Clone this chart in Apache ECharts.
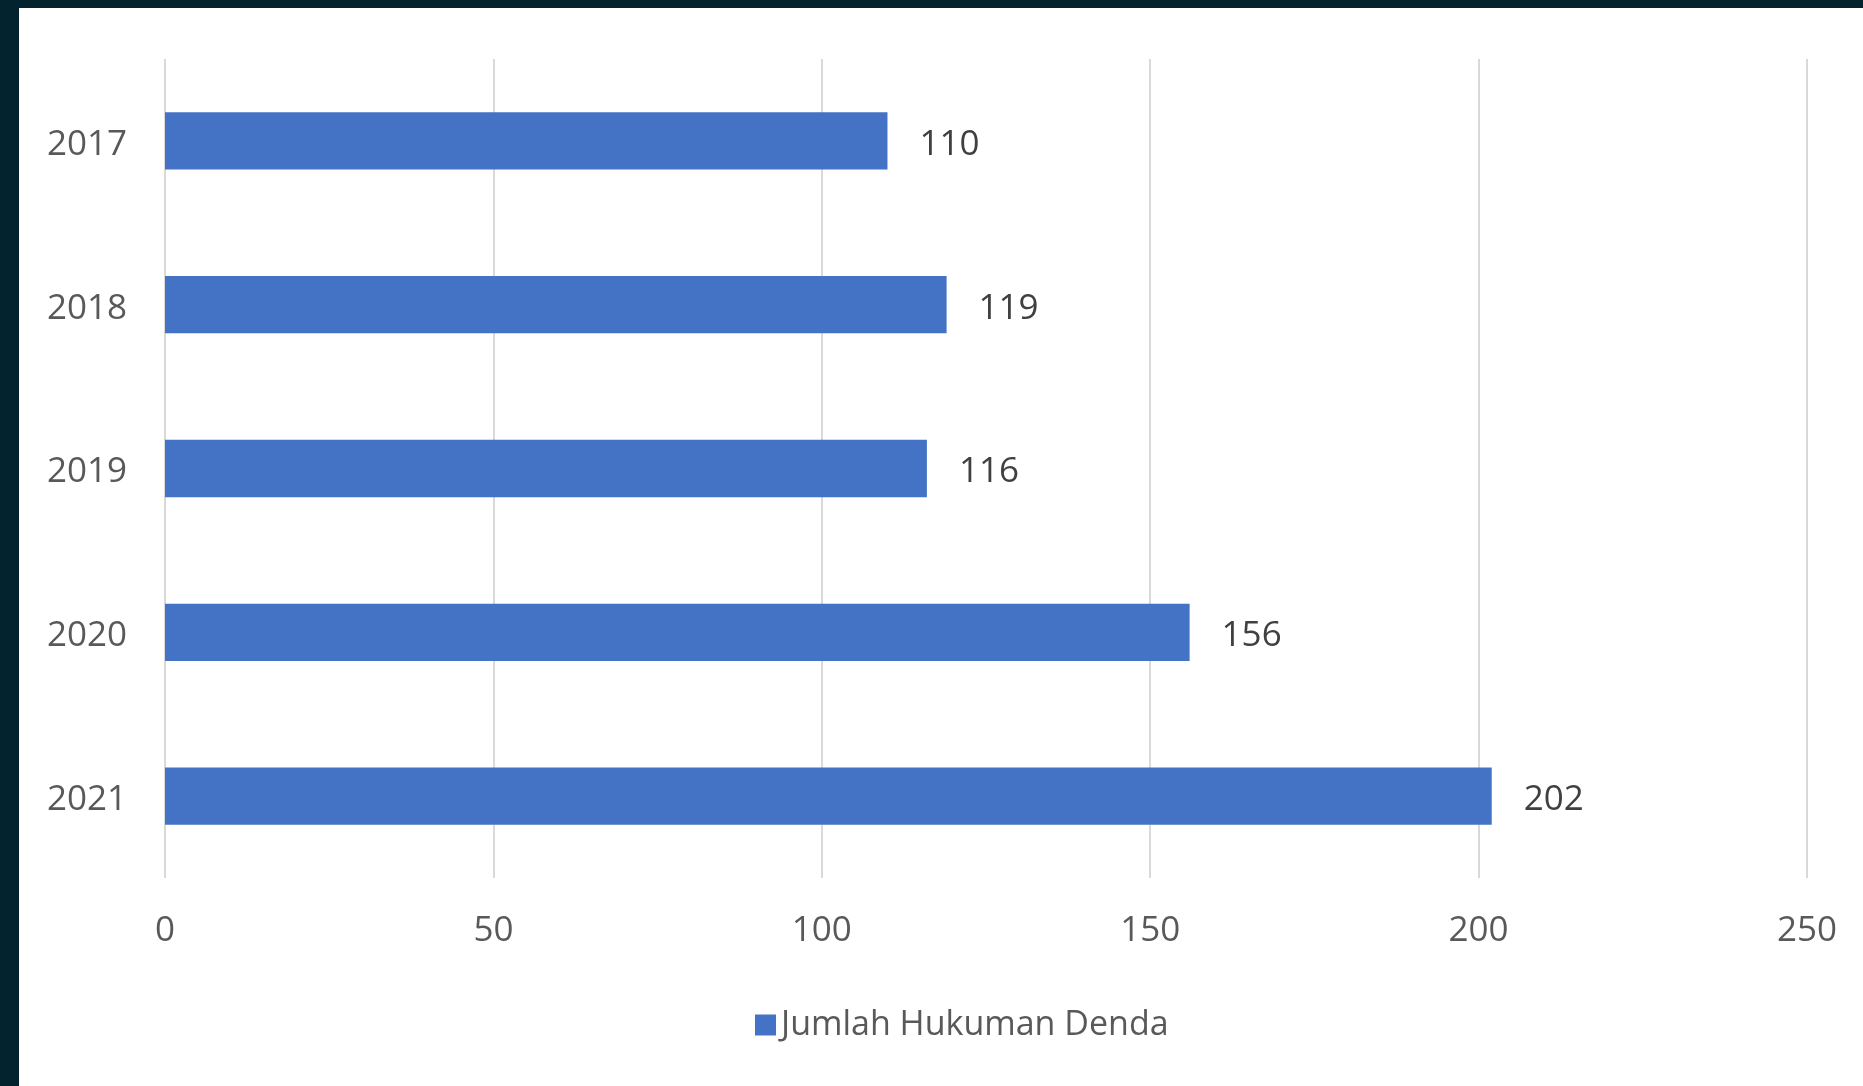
<!DOCTYPE html>
<html>
<head>
<meta charset="utf-8">
<script src="https://cdn.jsdelivr.net/npm/echarts@6/dist/echarts.min.js"></script>
<style>
  html, body { margin: 0; padding: 0; width: 1863px; height: 1086px; background: #03232e; overflow: hidden; }
  #chart { position: absolute; left: 19px; top: 8px; width: 1844px; height: 1078px; background: #ffffff; }
</style>
</head>
<body>
<div id="chart"></div>
<script>
// Yearly counts of fines
const years = ['2017', '2018', '2019', '2020', '2021'];
const fines = [110, 119, 116, 156, 202];
const seriesName = 'Jumlah Hukuman Denda';

const FONT = '"Open Sans", "Noto Sans", sans-serif';

const chart = echarts.init(document.getElementById('chart'), null, { renderer: 'canvas' });
chart.setOption({
  backgroundColor: '#ffffff',
  animation: false,
  grid: { left: 146, right: 56, top: 51, bottom: 208, containLabel: false },
  xAxis: {
    type: 'value',
    min: 0,
    max: 250,
    interval: 50,
    axisLine: { show: false },
    axisTick: { show: false },
    splitLine: { show: true, lineStyle: { color: '#d9d9d9', width: 2 } },
    axisLabel: { color: '#595959', fontSize: 35, fontFamily: FONT, margin: 36 }
  },
  yAxis: {
    type: 'category',
    data: years,
    inverse: true,
    axisLine: { show: false },
    axisTick: { show: false },
    splitLine: { show: false },
    axisLabel: {
      margin: 38,
      formatter: '{y|{value}}',
      rich: {
        y: { color: '#595959', fontSize: 35, fontFamily: FONT, padding: [8, 0, 0, 0] }
      }
    }
  },
  legend: {
    data: [seriesName],
    left: 731,
    top: 995,
    icon: 'rect',
    itemWidth: 21,
    itemHeight: 21,
    textStyle: { color: '#595959', fontSize: 34, fontFamily: FONT }
  },
  series: [{
    name: seriesName,
    type: 'bar',
    data: fines,
    barWidth: '35%',
    itemStyle: { color: '#4472c4' },
    label: {
      show: true,
      position: 'right',
      distance: 32,
      offset: [0, 4],
      color: '#404040',
      fontSize: 35,
      fontFamily: FONT
    }
  }]
});
</script>
</body>
</html>
